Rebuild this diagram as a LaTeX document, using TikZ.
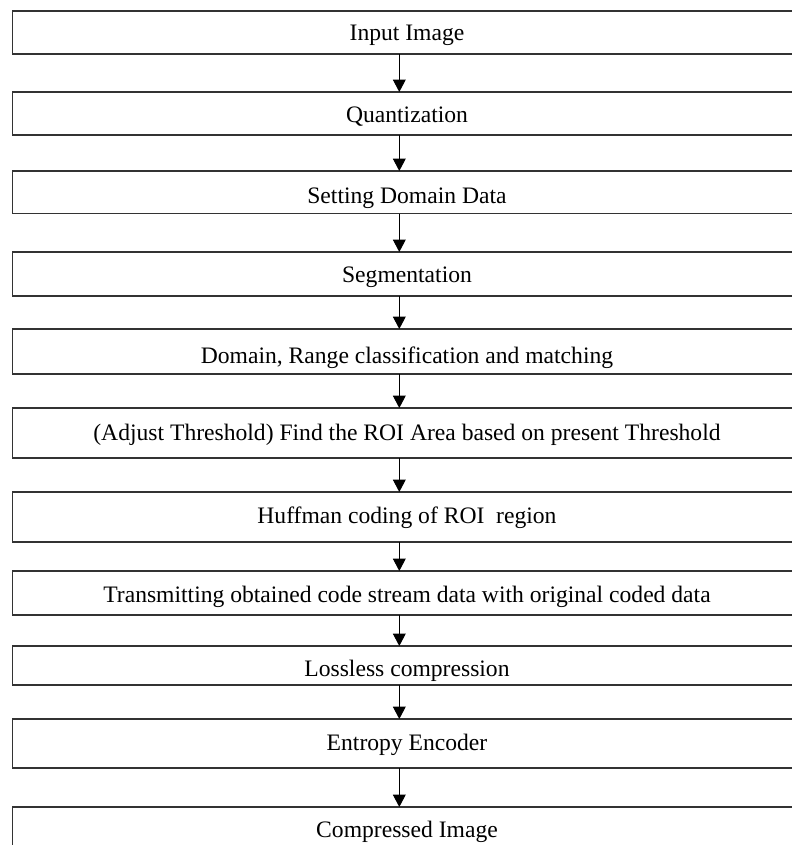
\documentclass[tikz,border=0pt]{standalone}
\usepackage{fontspec}
\setmainfont{Liberation Serif}
\usetikzlibrary{arrows.meta}
\begin{document}
\begin{tikzpicture}[x=1bp,y=-1bp,
  box/.style={draw=black!80, line width=1.1bp, minimum width=800bp, inner sep=0pt, outer sep=0pt, anchor=north west},
  lbl/.style={anchor=base, inner sep=0pt, font=\fontsize{23.6bp}{28bp}\selectfont},
  arr/.style={draw=black, line width=1bp, -{Triangle[width=12.7bp,length=12.3bp]}}]
\useasboundingbox (0,0) rectangle (792,845);
\clip (0,0) rectangle (792,845);
\fill[white] (0,0) rectangle (792,845);
\coordinate (ax) at (399.3,0);
% boxes
\node[box, minimum height=43bp] (b1) at (12.6,11) {};
\node[box, minimum height=43bp] (b2) at (12.6,92) {};
\node[box, minimum height=42.5bp] (b3) at (12.6,171) {};
\node[box, minimum height=44bp] (b4) at (12.6,252) {};
\node[box, minimum height=45bp] (b5) at (12.6,329) {};
\node[box, minimum height=50bp] (b6) at (12.6,408) {};
\node[box, minimum height=50bp] (b7) at (12.6,492) {};
\node[box, minimum height=44bp] (b8) at (12.6,571) {};
\node[box, minimum height=39bp] (b9) at (12.6,646) {};
\node[box, minimum height=49bp] (b10) at (12.6,719) {};
\node[box, minimum height=70bp] (b11) at (12.6,807) {};
% labels
\node[lbl] (t1) at (407,40) {Input Image};
\node[lbl] (t2) at (407,122) {Quantization};
\node[lbl] (t3) at (407,203) {Setting Domain Data};
\node[lbl] (t4) at (407,282) {Segmentation};
\node[lbl] (t5) at (407,363) {Domain, Range classification and matching};
\node[lbl] (t6) at (407,440) {(Adjust Threshold) Find the ROI Area based on present Threshold};
\node[lbl] (t7) at (407,523) {Huffman coding of ROI\ \ region};
\node[lbl] (t8) at (407,602) {Transmitting obtained code stream data with original coded data};
\node[lbl] (t9) at (407,676) {Lossless compression};
\node[lbl] (t10) at (407,750) {Entropy Encoder};
\node[lbl] (t11) at (407,837) {Compressed Image};
% connectors
\foreach \a/\b in {b1/b2,b2/b3,b3/b4,b4/b5,b5/b6,b6/b7,b7/b8,b8/b9,b9/b10,b10/b11}
  \draw[arr] (\a.south -| ax) -- (\b.north -| ax);
\end{tikzpicture}
\end{document}
